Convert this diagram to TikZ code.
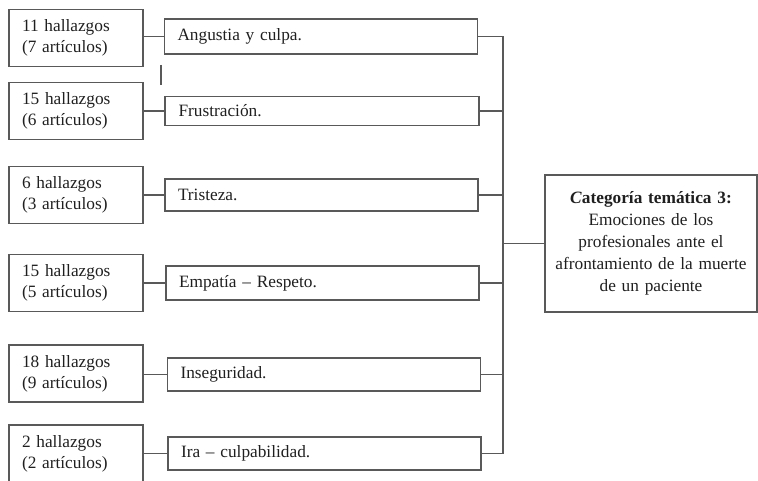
\documentclass[tikz,border=0pt]{standalone}
\usepackage{fontspec}
\setmainfont{Liberation Serif}
\begin{document}
\begin{tikzpicture}[x=1pt,y=-1pt,
  lc/.style={draw=black!65, line width=1.1pt},
  txt/.style={font=\fontsize{17.3}{21}\selectfont, text=black!88},
  leftbox/.style={lc, txt, rectangle, minimum width=134pt, minimum height=57pt, text width=108pt, align=left, inner xsep=13pt, inner ysep=0pt},
  midbox/.style={lc, txt, rectangle, minimum width=313pt, minimum height=33pt, text width=287pt, align=left, inner xsep=13pt, inner ysep=0pt},
  catbox/.style={lc, txt, rectangle, minimum width=212pt, minimum height=137pt, text width=205pt, align=center, inner sep=0pt, font=\fontsize{17.3}{22}\selectfont},
  conn/.style={draw=black!65, line width=1.1pt}]
\useasboundingbox (0,0) rectangle (758,481);
% left boxes
\node[leftbox] (l1) at (76,38) {11 hallazgos\\(7 artículos)};
\node[leftbox] (l2) at (76,111) {15 hallazgos\\(6 artículos)};
\node[leftbox] (l3) at (76,195) {6 hallazgos\\(3 artículos)};
\node[leftbox] (l4) at (76,283) {15 hallazgos\\(5 artículos)};
\node[leftbox] (l5) at (76,373.5) {18 hallazgos\\(9 artículos)};
\node[leftbox] (l6) at (76,453.5) {2 hallazgos\\(2 artículos)};
% middle boxes
\node[midbox, minimum height=35pt] (m1) at (321,36.5) {Angustia y culpa.};
\node[midbox, minimum height=29pt, minimum width=314pt] (m2) at (322,111) {Frustración.};
\node[midbox, minimum height=32pt] (m3) at (321.5,195) {Tristeza.};
\node[midbox, minimum height=34pt, minimum width=311pt] (m4) at (322.5,283) {Empatía – Respeto.};
\node[midbox, minimum height=33pt, minimum width=312pt] (m5) at (324,374.5) {Inseguridad.};
\node[midbox, minimum height=33pt, minimum width=313pt] (m6) at (324.5,453.5) {Ira – culpabilidad.};
% category box
\node[catbox] (c) at (651,243.5) {\textbf{\textit{C}ategoría temática 3:}\\Emociones de los\\profesionales ante el\\afrontamiento de la muerte\\de un paciente};
% left to middle connectors
\foreach \i in {1,...,6} {
  \draw[conn] (l\i.east |- m\i.west) -- (m\i.west);
}
% bus
\coordinate (bt) at (503,37);
\coordinate (bb) at (503,452);
\foreach \i in {1,...,6} {
  \draw[conn] (m\i.east) -- (m\i.east -| bt);
}
\draw[conn] (bt |- m1.east) -- (bb |- m6.east);
\draw[conn] (bt |- c.west) -- (c.west);
% stray mark
\coordinate (s1) at (161,65);
\coordinate (s2) at (161,85);
\draw[conn] (s1) -- (s2);
\end{tikzpicture}
\end{document}
